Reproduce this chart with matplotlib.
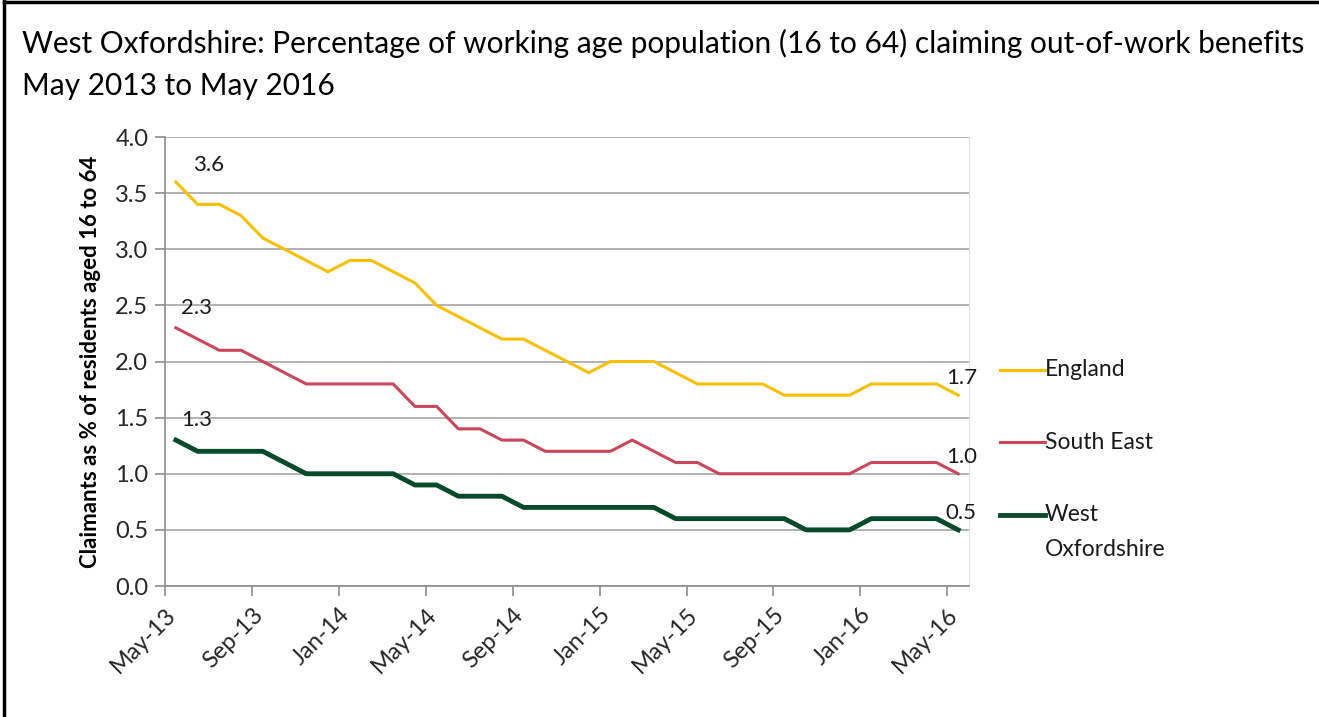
import matplotlib
matplotlib.use("Agg")
import matplotlib.pyplot as plt
from matplotlib.lines import Line2D
import numpy as np

# monthly values, May 2013 .. May 2016
months = ["May-13", "Jun-13", "Jul-13", "Aug-13", "Sep-13", "Oct-13", "Nov-13", "Dec-13",
          "Jan-14", "Feb-14", "Mar-14", "Apr-14", "May-14", "Jun-14", "Jul-14", "Aug-14",
          "Sep-14", "Oct-14", "Nov-14", "Dec-14", "Jan-15", "Feb-15", "Mar-15", "Apr-15",
          "May-15", "Jun-15", "Jul-15", "Aug-15", "Sep-15", "Oct-15", "Nov-15", "Dec-15",
          "Jan-16", "Feb-16", "Mar-16", "Apr-16", "May-16"]
england = [3.6, 3.4, 3.4, 3.3, 3.1, 3.0, 2.9, 2.8, 2.9, 2.9, 2.8, 2.7, 2.5, 2.4, 2.3, 2.2,
           2.2, 2.1, 2.0, 1.9, 2.0, 2.0, 2.0, 1.9, 1.8, 1.8, 1.8, 1.8, 1.7, 1.7, 1.7, 1.7,
           1.8, 1.8, 1.8, 1.8, 1.7]
south_east = [2.3, 2.2, 2.1, 2.1, 2.0, 1.9, 1.8, 1.8, 1.8, 1.8, 1.8, 1.6, 1.6, 1.4, 1.4, 1.3,
              1.3, 1.2, 1.2, 1.2, 1.2, 1.3, 1.2, 1.1, 1.1, 1.0, 1.0, 1.0, 1.0, 1.0, 1.0, 1.0,
              1.1, 1.1, 1.1, 1.1, 1.0]
west_oxon = [1.3, 1.2, 1.2, 1.2, 1.2, 1.1, 1.0, 1.0, 1.0, 1.0, 1.0, 0.9, 0.9, 0.8, 0.8, 0.8,
             0.7, 0.7, 0.7, 0.7, 0.7, 0.7, 0.7, 0.6, 0.6, 0.6, 0.6, 0.6, 0.6, 0.5, 0.5, 0.5,
             0.6, 0.6, 0.6, 0.6, 0.5]
yticks = [0.0, 0.5, 1.0, 1.5, 2.0, 2.5, 3.0, 3.5, 4.0]

series = [
    ("England", england, "#F5C000", 2.2),
    ("South East", south_east, "#C8475A", 2.2),
    ("West\nOxfordshire", west_oxon, "#064A2A", 3.5),
]

plt.rcParams["font.family"] = ["Lato", "DejaVu Sans"]

fig = plt.figure(figsize=(13.19, 7.17), dpi=100)
ax = fig.add_axes([0.1251, 0.1827, 0.6096, 0.6262])

x = np.arange(len(months))
for name, vals, col, lw in series:
    ax.plot(x, vals, color=col, lw=lw, solid_joinstyle="round", zorder=3)

ax.set_xlim(-0.5, len(months) - 0.5)
ax.set_ylim(0, 4.0)
ax.set_yticks(yticks)
ax.set_yticklabels([f"{v:.1f}" for v in yticks], fontsize=17, color="#262626")

tick_idx = list(range(0, len(months), 4))
ax.set_xticks([i - 0.5 for i in tick_idx])
ax.set_xticklabels([months[i] for i in tick_idx], rotation=45, ha="right",
                   rotation_mode="anchor", fontsize=17, color="#262626")

ax.grid(axis="y", color="#A6A6A6", lw=1.2, zorder=0)
ax.tick_params(axis="both", color="#8C8C8C", length=7, width=1.2)
ax.tick_params(axis="x", pad=6)
ax.tick_params(axis="y", pad=5)
for s in ["left", "bottom"]:
    ax.spines[s].set_color("#8C8C8C")
    ax.spines[s].set_linewidth(1.2)
ax.spines["top"].set_visible(False)
ax.spines["right"].set_color("#E0E0E0")

ax.set_ylabel("Claimants as % of residents aged 16 to 64", fontsize=16,
              fontweight="bold", labelpad=10)

# data labels at first and last points
first_off = [(12, 5), (4, 7), (4, 7)]
for (name, vals, col, lw), off in zip(series, first_off):
    ax.annotate(f"{vals[0]:.1f}", (0, vals[0]), xytext=off, textcoords="offset points",
                fontsize=16, color="#1a1a1a", ha="left", va="bottom")
    ax.annotate(f"{vals[-1]:.1f}", (len(months) - 1, vals[-1]), xytext=(-9, 5),
                textcoords="offset points", fontsize=16, color="#1a1a1a",
                ha="left", va="bottom")

# legend on the right
leg_y = [0.484, 0.383, 0.282]
for (name, vals, col, lw), yy in zip(series, leg_y):
    fig.add_artist(Line2D([0.758, 0.792], [yy, yy], color=col, lw=lw))
    lines = name.split("\n")
    fig.text(0.792, yy, lines[0], fontsize=16.5, va="center", color="#1a1a1a")
    if len(lines) > 1:
        fig.text(0.792, yy - 0.048, lines[1], fontsize=16.5, va="center", color="#1a1a1a")

# title
fig.text(0.017, 0.926, "West Oxfordshire: Percentage of working age population (16 to 64) "
         "claiming out-of-work benefits", fontsize=21.5, va="baseline")
fig.text(0.017, 0.868, "May 2013 to May 2016", fontsize=21.5, va="baseline")

# page frame
fig.add_artist(Line2D([0.003, 0.003], [0, 0.998], color="black", lw=2.5))
fig.add_artist(Line2D([0.003, 1.0], [0.997, 0.997], color="black", lw=2.5))

fig.savefig("out.png", dpi=100)
